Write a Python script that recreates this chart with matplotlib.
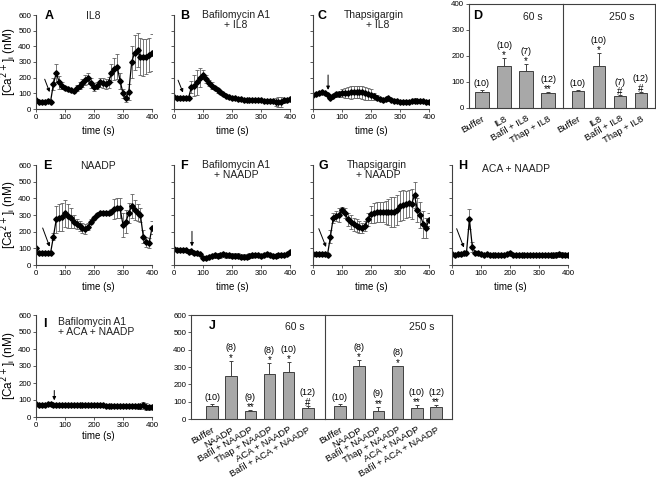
import matplotlib
matplotlib.use('Agg')
import matplotlib.pyplot as plt
import matplotlib.transforms as mtransforms

plt.rcParams['font.family'] = ['Liberation Sans', 'DejaVu Sans']

W, H = 656, 478

time_s = [0, 10, 20, 30, 40, 50, 60, 70, 80, 90, 100, 110, 120, 130, 140, 150,
          160, 170, 180, 190, 200, 210, 220, 230, 240, 250, 260, 270, 280, 290,
          300, 310, 320, 330, 340, 350, 360, 370, 380, 390, 400]

# A: IL8
il8 = [55, 45, 45, 45, 48, 45, 160, 230, 170, 150, 135, 125, 120, 115, 135, 150,
       165, 185, 195, 165, 140, 150, 170, 165, 160, 170, 230, 255, 270, 180,
       100, 70, 110, 300, 360, 375, 335, 330, 335, 345, 360]
il8_err = [8, 8, 8, 8, 8, 8, 40, 60, 40, 20, 15, 12, 10, 10, 20, 25, 25, 30, 35, 30,
           25, 25, 30, 30, 30, 35, 60, 70, 80, 50, 30, 25, 50, 100, 110, 110,
           120, 120, 110, 110, 120]
# B: Bafilomycin A1 + IL8
bafil_il8 = [75, 72, 70, 68, 70, 70, 140, 150, 170, 200, 220, 190, 165, 150, 135,
             120, 110, 95, 85, 75, 70, 68, 65, 62, 60, 60, 58, 58, 55, 55, 55,
             52, 50, 50, 48, 45, 45, 45, 55, 55, 62]
bafil_il8_err = [8, 8, 8, 8, 8, 8, 40, 70, 80, 60, 30, 25, 20, 20, 15, 15, 12, 10,
                 10, 8, 8, 8, 8, 8, 8, 8, 8, 8, 8, 8, 8, 8, 8, 8, 10, 25, 30, 30,
                 15, 10, 8]
# C: Thapsigargin + IL8
thap_il8 = [90, 95, 100, 106, 100, 90, 72, 85, 94, 98, 100, 102, 104, 106, 110,
            110, 108, 106, 100, 95, 90, 80, 72, 65, 57, 62, 68, 60, 53, 50, 47,
            47, 47, 47, 50, 53, 52, 51, 49, 47, 47]
thap_il8_err = [8, 8, 8, 8, 8, 8, 8, 10, 15, 20, 25, 30, 35, 40, 40, 40, 40, 40,
                40, 40, 35, 25, 15, 10, 10, 10, 8, 8, 8, 8, 8, 8, 8, 8, 10, 15,
                10, 8, 8, 8, 8]
# E: NAADP
naadp = [100, 70, 70, 70, 70, 70, 170, 275, 285, 290, 310, 295, 280, 260, 245,
         235, 220, 215, 230, 260, 285, 300, 310, 315, 315, 315, 320, 335, 340,
         340, 240, 260, 310, 355, 330, 315, 300, 170, 140, 130, 225]
naadp_err = [8, 5, 5, 5, 5, 5, 20, 80, 80, 85, 80, 70, 60, 40, 30, 30, 30, 30, 20,
             15, 12, 10, 10, 10, 10, 10, 15, 60, 60, 60, 70, 70, 60, 70, 60, 50,
             40, 40, 30, 30, 40]
# F: Bafilomycin A1 + NAADP
bafil_naadp = [98, 92, 90, 92, 88, 80, 85, 70, 70, 65, 45, 40, 50, 55, 60, 55, 60,
               65, 60, 60, 55, 55, 55, 50, 50, 50, 55, 60, 60, 60, 55, 60, 65, 60,
               55, 55, 60, 60, 60, 65, 80]
bafil_naadp_err = [8, 8, 8, 8, 8, 8, 8, 8, 8, 8, 10, 10, 10, 12, 15, 15, 15, 15,
                   15, 15, 15, 15, 15, 15, 15, 15, 15, 15, 12, 12, 12, 12, 12, 12,
                   12, 12, 12, 12, 10, 10, 8]
# G: Thapsigargin + NAADP
thap_naadp = [65, 65, 65, 65, 65, 62, 170, 285, 295, 300, 330, 310, 275, 258, 245,
              236, 228, 225, 235, 275, 305, 312, 316, 316, 316, 316, 318, 320, 320,
              330, 355, 362, 365, 370, 365, 420, 330, 300, 245, 222, 272]
thap_naadp_err = [8, 8, 8, 8, 8, 8, 40, 30, 30, 40, 20, 30, 40, 40, 40, 40, 35,
                  30, 30, 40, 50, 60, 60, 60, 60, 70, 80, 90, 90, 90, 90, 90, 80,
                  80, 90, 80, 70, 80, 80, 60, 40]
# H: ACA + NAADP
aca_naadp = [65, 62, 65, 65, 70, 75, 275, 110, 75, 70, 65, 62, 65, 62, 60, 62, 60,
             60, 62, 65, 75, 62, 60, 62, 60, 60, 62, 60, 62, 60, 62, 60, 62, 60,
             62, 60, 62, 65, 62, 60, 60]
aca_naadp_err = [8, 8, 8, 8, 8, 8, 60, 30, 10, 8, 8, 8, 8, 8, 8, 8, 8, 8, 8, 8,
                 10, 8, 8, 8, 8, 8, 8, 8, 8, 8, 10, 10, 10, 12, 12, 15, 15, 15, 15,
                 12, 10]
# I: Bafilomycin A1 + ACA + NAADP
bafil_aca_naadp = [75, 72, 70, 72, 75, 78, 72, 70, 70, 68, 70, 70, 68, 68, 70, 70,
                   68, 68, 70, 68, 70, 72, 68, 68, 66, 66, 65, 66, 65, 65, 64, 64,
                   63, 65, 64, 64, 62, 70, 60, 58, 60]
bafil_aca_naadp_err = [8, 8, 8, 8, 10, 12, 8, 8, 8, 8, 8, 8, 8, 8, 8, 8, 8, 8, 8,
                       8, 10, 8, 8, 8, 8, 8, 8, 8, 8, 8, 8, 10, 10, 12, 12, 15, 15,
                       20, 20, 15, 10]

# D: bar summary (IL8)
d_labels = ['Buffer', 'IL8', 'Bafil + IL8', 'Thap + IL8']
d_60 = [63, 163, 141, 57]
d_60_err = [5, 28, 27, 5]
d_250 = [65, 163, 45, 58]
d_250_err = [5, 47, 5, 5]
d_n = ['(10)', '(10)', '(7)', '(12)']
d_60_sig = ['', '*', '*', '**']
d_250_sig = ['', '*', '#', '#']

# J: bar summary (NAADP)
j_labels = ['Buffer', 'NAADP', 'Bafil + NAADP', 'Thap + NAADP', 'ACA + NAADP',
            'Bafil + ACA + NAADP']
j_60 = [77, 250, 44, 260, 269, 65]
j_60_err = [8, 87, 6, 61, 60, 12]
j_250 = [77, 308, 48, 304, 65, 67]
j_250_err = [11, 30, 23, 4, 16, 14]
j_n = ['(10)', '(8)', '(9)', '(8)', '(10)', '(12)']
j_60_sig = ['', '*', '**', '*', '*', '#']
j_250_sig = ['', '*', '**', '*', '**', '**']

fig = plt.figure(figsize=(W / 100, H / 100), dpi=100)
spine_c = '#404040'


def box(l, t, r, b):
    return fig.add_axes([l / W, 1 - b / H, (r - l) / W, (b - t) / H])


def ftext(x, y, s, **kw):
    fig.text(x / W, 1 - y / H, s, **kw)


def trace(rect, y, err, ylabels=True):
    ax = box(*rect)
    ax.errorbar(time_s, y, yerr=err, color='k', ecolor='#606060', elinewidth=0.6,
                capsize=1.3, capthick=0.6, lw=0.9, marker='D', ms=2.8)
    ax.set_xlim(0, 400)
    ax.set_ylim(0, 600)
    ax.set_xticks([0, 100, 200, 300, 400])
    ax.set_yticks([0, 100, 200, 300, 400, 500, 600])
    if not ylabels:
        ax.set_yticklabels([])
    for s in ('top', 'right'):
        ax.spines[s].set_visible(False)
    for s in ('left', 'bottom'):
        ax.spines[s].set_color(spine_c)
        ax.spines[s].set_linewidth(0.8)
    ax.tick_params(labelsize=5.7, length=2, width=0.6, color=spine_c, pad=1.5)
    return ax


def arrow(ax, tail, head):
    ax.annotate('', xy=head, xytext=tail,
                arrowprops=dict(arrowstyle='-|>', lw=0.7, color='k',
                                mutation_scale=5, shrinkA=0, shrinkB=0))


def bars(rect, vals, errs, xlim, ymax, labels, n, sig, left_axis):
    ax = box(*rect)
    xs = list(range(len(vals)))
    ax.bar(xs, vals, width=0.6, color='#a8a8a8', edgecolor=spine_c, lw=0.7)
    ax.errorbar(xs, vals, yerr=[[0] * len(errs), errs], fmt='none', ecolor=spine_c,
                elinewidth=0.7, capsize=1.5, capthick=0.7)
    ax.set_xlim(*xlim)
    ax.set_ylim(0, ymax)
    ax.set_yticks(list(range(0, ymax + 1, 100)))
    if not left_axis:
        ax.tick_params(axis='y', left=False, labelleft=False)
    for s in ax.spines.values():
        s.set_color(spine_c)
        s.set_linewidth(0.8)
    if left_axis:
        ax.spines['right'].set_visible(False)
    ax.set_xticks(xs)
    ax.set_xticklabels(labels, rotation=30, ha='right', rotation_mode='anchor')
    off = mtransforms.ScaledTranslation(6 / 100, 0, fig.dpi_scale_trans)
    for lab in ax.get_xticklabels():
        lab.set_transform(lab.get_transform() + off)
    ax.tick_params(axis='x', bottom=False, labelsize=6.8, pad=1)
    ax.tick_params(axis='y', labelsize=5.7, length=2, width=0.6, color=spine_c, pad=1.5)
    for x, v, e, nn, sg in zip(xs, vals, errs, n, sig):
        top = v + e
        if sg:
            ax.annotate(sg, (x, top), xytext=(0, -1.5), textcoords='offset points',
                        ha='center', va='bottom', fontsize=7)
            ax.annotate(nn, (x, top), xytext=(0, 6), textcoords='offset points',
                        ha='center', va='bottom', fontsize=6.5)
        else:
            ax.annotate(nn, (x, top), xytext=(0, 1.5), textcoords='offset points',
                        ha='center', va='bottom', fontsize=6.5)
    return ax


# Row 1
axA = trace((36, 15, 152, 109), il8, il8_err)
arrow(axA, (30, 190), (47, 108))
axB = trace((174, 15, 290, 109), bafil_il8, bafil_il8_err, ylabels=False)
arrow(axB, (14, 184), (31, 105))
axC = trace((313, 15, 429, 109), thap_il8, thap_il8_err, ylabels=False)
arrow(axC, (52, 217), (52, 122))
bars((469, 4, 563, 108), d_60, d_60_err, (-0.59, 3.68), 400, d_labels, d_n,
     d_60_sig, True)
bars((563, 4, 655, 108), d_250, d_250_err, (-0.71, 3.67), 400, d_labels, d_n,
     d_250_sig, False)

# Row 2
axE = trace((36, 165, 152, 265), naadp, naadp_err)
arrow(axE, (23, 222), (47, 110))
axF = trace((174, 165, 290, 265), bafil_naadp, bafil_naadp_err, ylabels=False)
arrow(axF, (62, 202), (62, 112))
axG = trace((313, 165, 429, 265), thap_naadp, thap_naadp_err, ylabels=False)
arrow(axG, (20, 218), (45, 108))
axH = trace((452, 165, 568, 265), aca_naadp, aca_naadp_err, ylabels=False)
arrow(axH, (16, 218), (41, 105))

# Row 3
axI = trace((36, 315, 152, 417), bafil_aca_naadp, bafil_aca_naadp_err)
arrow(axI, (63, 156), (63, 98))
bars((191, 315, 325, 419), j_60, j_60_err, (-1.1, 5.9), 600, j_labels, j_n,
     j_60_sig, True)
bars((325, 315, 452, 419), j_250, j_250_err, (-0.78, 5.83), 600, j_labels, j_n,
     j_250_sig, False)

# axis titles
ylab = '[Ca$^{2+}$]$_\\mathregular{i}$ (nM)'
for yc in (62, 215, 366):
    ftext(9, yc, ylab, rotation=90, ha='center', va='center', fontsize=8.5)
for xc, yc in ((98, 131), (232, 131), (371, 131),
               (98, 287), (232, 287), (371, 287), (510, 287),
               (98, 436)):
    ftext(xc, yc, 'time (s)', ha='center', va='center', fontsize=7)

# panel letters and titles
bold = dict(fontsize=9, fontweight='bold', ha='center', va='center')
norm = dict(fontsize=7.5, ha='center', va='center', color='#202020')
ftext(49, 16, 'A', **bold)
ftext(93, 16, 'IL8', **norm)
ftext(185, 16, 'B', **bold)
ftext(236, 15, 'Bafilomycin A1', **norm)
ftext(236, 25, '+ IL8', **norm)
ftext(322, 16, 'C', **bold)
ftext(374, 15, 'Thapsigargin', **norm)
ftext(378, 25, '+ IL8', **norm)
ftext(478, 16, 'D', **bold)
ftext(533, 17, '60 s', **norm)
ftext(622, 17, '250 s', **norm)
ftext(47, 166, 'E', **bold)
ftext(98, 166, 'NAADP', **norm)
ftext(184, 166, 'F', **bold)
ftext(236, 165, 'Bafilomycin A1', **norm)
ftext(236, 175, '+ NAADP', **norm)
ftext(323, 166, 'G', **bold)
ftext(377, 165, 'Thapsigargin', **norm)
ftext(378, 175, '+ NAADP', **norm)
ftext(463, 166, 'H', **bold)
ftext(516, 169, 'ACA + NAADP', **norm)
ftext(45, 324, 'I', **bold)
ftext(92, 322, 'Bafilomycin A1', **norm)
ftext(96, 332, '+ ACA + NAADP', **norm)
ftext(212, 326, 'J', **bold)
ftext(295, 327, '60 s', **norm)
ftext(422, 327, '250 s', **norm)

fig.savefig('out.png', dpi=100)
